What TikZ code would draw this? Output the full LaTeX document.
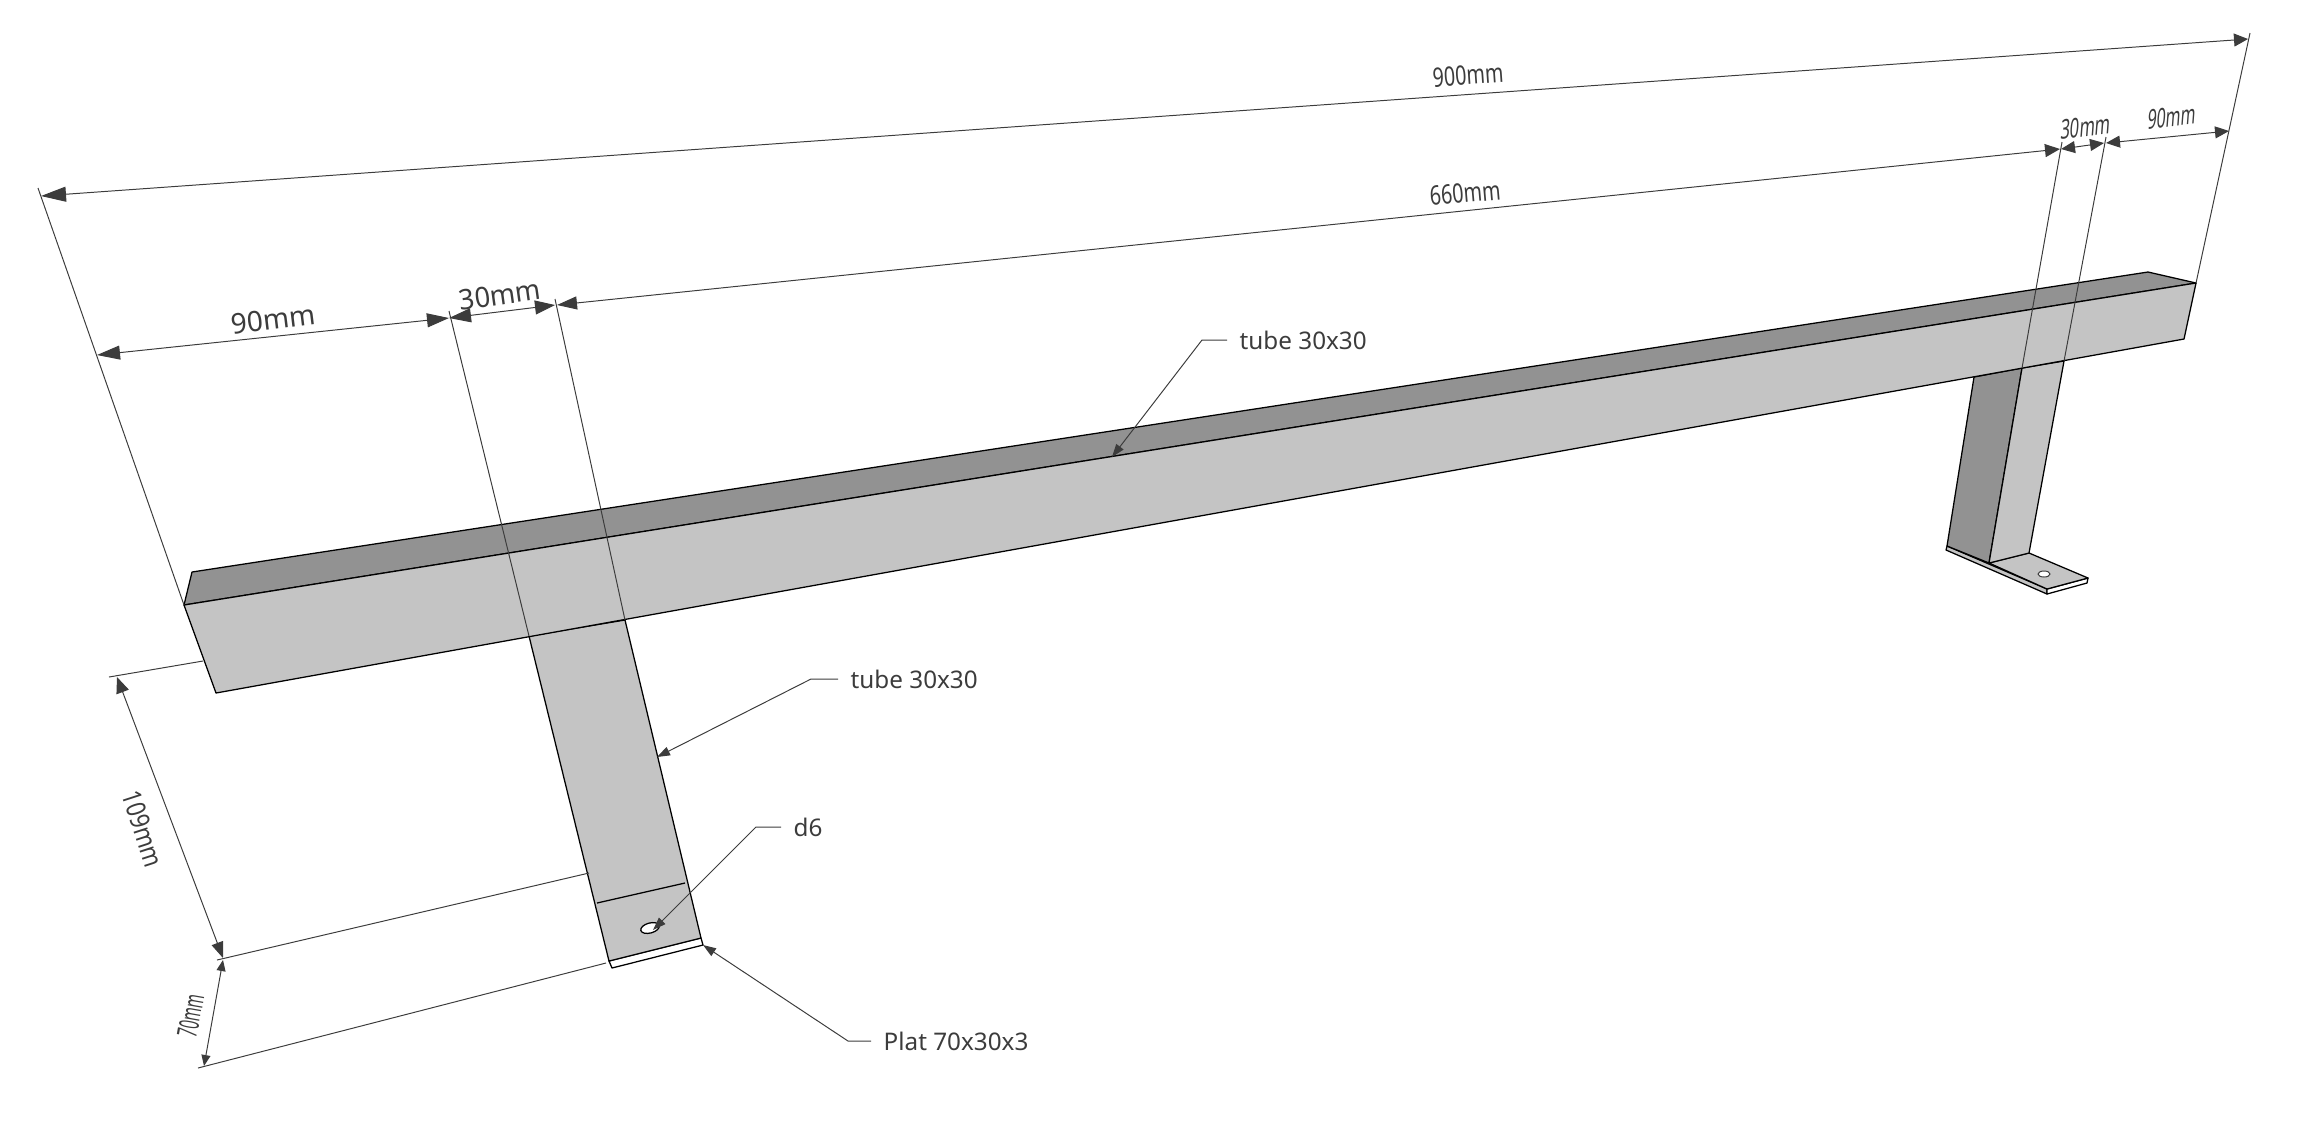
\documentclass[tikz,border=0pt]{standalone}
\usepackage{fontspec}
\setmainfont{Noto Sans}
\usetikzlibrary{arrows.meta}
\definecolor{mylight}{RGB}{196, 196, 196}
\definecolor{mydark}{RGB}{146, 146, 146}
\definecolor{myink}{RGB}{60, 60, 60}
\tikzset{
  edgeline/.style = {draw = black, line width = 0.36pt, line join = round},
  extline/.style = {draw = myink, line width = 0.28pt},
  dimline/.style n args = {4}{extline, {Triangle[length = #1, width = #2, color = myink]}-{Triangle[length = #3, width = #4, color = myink]}},
  leaderline/.style = {extline, -{Triangle[length = 0.13cm, width = 0.09cm, color = myink]}},
  dimtext/.style = {text = myink, inner sep = 0pt, font = \fontsize{#1}{9}\selectfont},
  calltext/.style = {text = myink, anchor = west, inner sep = 0.12cm, font = \fontsize{6.9}{8}\selectfont}
}
\begin{document}
\begin{tikzpicture}[x = 0.01cm, y = -0.01cm]
\useasboundingbox (0,0) rectangle (2300,1135);
% far leg
\filldraw[edgeline, fill = mylight] (1947,546) -- (2047,589) -- (2047,594) -- (1946,550) -- cycle;
\filldraw[edgeline, fill = white] (2047,589) -- (2088,578) -- (2087,583) -- (2047,594) -- cycle;
\filldraw[edgeline, fill = mylight] (1989,563) -- (2029,553) -- (2088,578) -- (2047,589) -- cycle;
\filldraw[edgeline, fill = mydark] (1974,377) -- (2022,368) -- (1989,563) -- (1947,546) -- cycle;
\filldraw[edgeline, fill = mylight] (2022,368) -- (2064,361) -- (2029,553) -- (1989,563) -- cycle;
\filldraw[extline, fill = white] (2044,574) ellipse (6 and 3);
% near leg with its plate
\filldraw[edgeline, fill = white] (609,961) -- (701,938) -- (703,945) -- (612,968) -- cycle;
\filldraw[edgeline, fill = mylight] (529,636) -- (625,620) -- (701,938) -- (609,961) -- cycle;
\draw[edgeline] (597,903) -- (685,883);
\filldraw[edgeline, fill = white, rotate around = {15:(650,928)}] (650,928) ellipse (9.5 and 5);
% beam
\filldraw[edgeline, fill = mydark] (184,605) -- (192,572) -- (2148,272) -- (2196,283) -- cycle;
\filldraw[edgeline, fill = mylight] (184,605) -- (2196,283) -- (2184,339) -- (216,693) -- cycle;
% extension lines
\foreach \xa / \ya / \xb / \yb in {38/188/184/605, 449/311/529/636, 555/299/625/620, 2062/142/2022/368, 2106/137/2064/361, 2250/33/2196/283, 109/677/203/661, 217/960/589/873, 198/1068/606/963}{
\draw[extline] (\xa,\ya) -- (\xb,\yb);
}
% dimensions
\draw[dimline = {0.25cm}{0.15cm}{0.14cm}{0.13cm}] (41,196) -- (2248,39);
\draw[dimline = {0.23cm}{0.14cm}{0.22cm}{0.14cm}] (97,355) -- (449,318);
\draw[dimline = {0.22cm}{0.14cm}{0.20cm}{0.14cm}] (449,318) -- (555,305);
\draw[dimline = {0.20cm}{0.13cm}{0.15cm}{0.13cm}] (557,305) -- (2060,149);
\draw[dimline = {0.14cm}{0.12cm}{0.14cm}{0.12cm}] (2061,149) -- (2104,143);
\draw[dimline = {0.14cm}{0.12cm}{0.14cm}{0.12cm}] (2106,143) -- (2229,131);
\draw[dimline = {0.16cm}{0.13cm}{0.16cm}{0.12cm}] (117,677) -- (223,958);
\draw[dimline = {0.11cm}{0.09cm}{0.11cm}{0.09cm}] (223,960) -- (204,1066);
\node[dimtext = 7.6, rotate = 4, xscale = 0.74] (lenall) at (1468,75) {900mm};
\node[dimtext = 7.6, rotate = 5, xscale = 0.74] (lenmid) at (1465,193) {660mm};
\node[dimtext = 8, rotate = 7] (lenleft) at (273,319) {90mm};
\node[dimtext = 8, rotate = 8, xscale = 0.97] (widleft) at (500,295) {30mm};
\node[dimtext = 7.6, rotate = 7, xslant = 0.2, xscale = 0.6] (lenright) at (2172,117) {90mm};
\node[dimtext = 7.6, rotate = 7, xslant = 0.2, xscale = 0.62] (widright) at (2086,127) {30mm};
\node[dimtext = 7.6, rotate = -72, xscale = 0.82] (height) at (143,829) {109mm};
\node[dimtext = 7.8, rotate = 80, xscale = 0.52] (plate) at (191,1016) {70mm};
% call-outs
\node[calltext] (calltop) at (1227,340) {tube 30x30};
\node[calltext] (callleg) at (838,679) {tube 30x30};
\node[calltext] (callhole) at (781,827) {d6};
\node[calltext] (callplat) at (871,1041) {Plat 70x30x3};
\coordinate (kneetop) at (1202,340);
\coordinate (kneeleg) at (811,679);
\coordinate (kneehole) at (756,827);
\coordinate (kneeplat) at (848,1041);
\draw[leaderline] (calltop.west) -- (kneetop) -- (1112,457);
\draw[leaderline] (callleg.west) -- (kneeleg) -- (657,757);
\draw[leaderline] (callhole.west) -- (kneehole) -- (653,930);
\draw[leaderline] (callplat.west) -- (kneeplat) -- (703,945);
\end{tikzpicture}
\end{document}
